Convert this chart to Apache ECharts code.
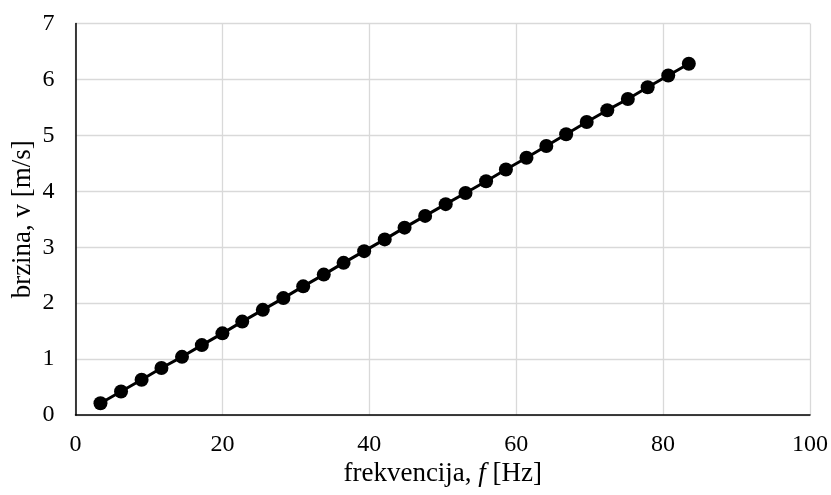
<!DOCTYPE html>
<html>
<head>
<meta charset="utf-8">
<script src="https://cdn.jsdelivr.net/npm/echarts@6/dist/echarts.min.js"></script>
<style>html,body{margin:0;padding:0;background:#fff;}#c{width:831px;height:495px;}</style>
</head>
<body>
<div id="c"></div>
<script>
var frequency = [3.4, 6.2, 9.0, 11.7, 14.5, 17.2, 20.0, 22.7, 25.5, 28.3, 31.0, 33.8, 36.5, 39.3, 42.1, 44.8, 47.6, 50.4, 53.1, 55.9, 58.6, 61.4, 64.1, 66.8, 69.6, 72.4, 75.2, 77.9, 80.7, 83.5];
var speed = [0.21, 0.42, 0.63, 0.84, 1.04, 1.25, 1.46, 1.67, 1.88, 2.09, 2.30, 2.51, 2.72, 2.93, 3.14, 3.35, 3.56, 3.77, 3.97, 4.18, 4.39, 4.60, 4.81, 5.02, 5.24, 5.45, 5.65, 5.86, 6.07, 6.28];
var xTicks = [0, 20, 40, 60, 80, 100];
var yTicks = [0, 1, 2, 3, 4, 5, 6, 7];

var font = '"Liberation Serif", "DejaVu Serif", serif';
var pts = frequency.map(function (f, i) { return [f, speed[i]]; });
var chart = echarts.init(document.getElementById('c'), null, {renderer: 'canvas'});
chart.setOption({
  animation: false,
  backgroundColor: '#fff',
  grid: {left: 75.5, right: 21, top: 23.5, bottom: 80, containLabel: false, outerBoundsMode: 'none'},
  xAxis: {
    type: 'value', min: xTicks[0], max: xTicks[xTicks.length - 1], interval: 20,
    name: 'frekvencija, {i|f} [Hz]', nameLocation: 'middle', nameGap: 45, nameMoveOverlap: false,
    nameTextStyle: {fontFamily: font, fontSize: 27, color: '#000',
      rich: {i: {fontFamily: font, fontStyle: 'italic', fontSize: 27, color: '#000'}}},
    axisLine: {show: true, onZero: false, lineStyle: {color: '#000', width: 1.5}},
    axisTick: {show: false},
    axisLabel: {fontFamily: font, fontSize: 24, color: '#000', margin: 18},
    splitLine: {show: true, lineStyle: {color: '#d9d9d9', width: 1.3}}
  },
  yAxis: {
    type: 'value', min: yTicks[0], max: yTicks[yTicks.length - 1], interval: 1,
    name: 'brzina, v [m/s]', nameLocation: 'middle', nameGap: 39, nameRotate: 90, nameMoveOverlap: false,
    nameTextStyle: {fontFamily: font, fontSize: 27, color: '#000'},
    axisLine: {show: true, onZero: false, lineStyle: {color: '#000', width: 1.5}},
    axisTick: {show: false},
    axisLabel: {fontFamily: font, fontSize: 24, color: '#000', margin: 21},
    splitLine: {show: true, lineStyle: {color: '#d9d9d9', width: 1.3}}
  },
  series: [{
    type: 'line', data: pts,
    symbol: 'circle', symbolSize: 14,
    itemStyle: {color: '#000'},
    lineStyle: {color: '#000', width: 3},
    z: 5
  }]
});
</script>
</body>
</html>
